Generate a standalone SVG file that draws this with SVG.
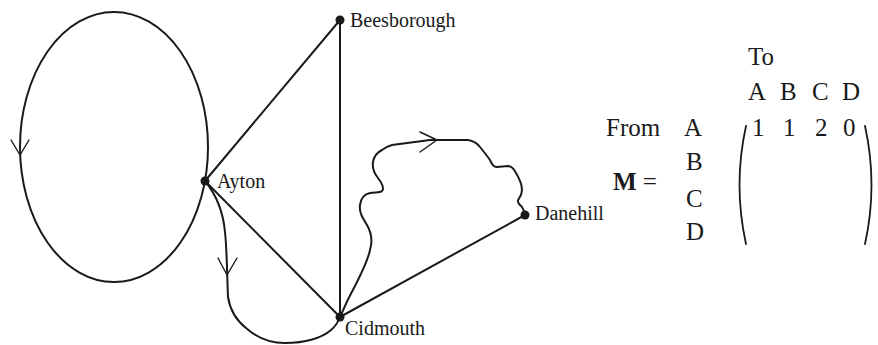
<svg xmlns="http://www.w3.org/2000/svg" width="878" height="345" viewBox="0 0 878 345">
<style>
.e{fill:none;stroke:#1a1a1a;stroke-width:2;stroke-linejoin:round;stroke-linecap:round}
.a{fill:none;stroke:#1a1a1a;stroke-width:1.4;stroke-linecap:round;stroke-linejoin:round}
.n{fill:#1a1a1a}
text{font-family:'Liberation Serif','Times New Roman','DejaVu Serif',serif;fill:#1a1a1a}
.t{font-size:20px}
.m{font-size:25px}
.p{fill:none;stroke:#1a1a1a;stroke-width:1.8;stroke-linecap:round}
</style>
<rect width="878" height="345" fill="#fff"/>
<g id="connectors">
<ellipse class="e" cx="114" cy="147" rx="94" ry="135"/>
<path class="a" d="M11,140 L20,155 L29,140"/>
<line class="e" x1="205" y1="181" x2="340" y2="20"/>
<line class="e" x1="340" y1="20" x2="340" y2="317"/>
<line class="e" x1="205" y1="181" x2="340" y2="317"/>
<line class="e" x1="340" y1="317" x2="525" y2="215"/>
<path class="e" d="M205,181 C214,192 223,210 225,232 C227,250 227,275 228,297 C230,310 236,320 246,328 C256,337 268,343 285,343 C305,343 322,338 331,330 C336,326 338,322 340,317"/>
<path class="a" d="M218,258 L227,275 L237,258"/>
<path class="e" d="M340,317 C346,303 351,293 357,282 C363,270 368,260 370,250 C373,240 371,232 367,225 C362,217 359,212 360,205 C361,198 365,194 370,193 C375,192 380,193 382,191 C385,188 381,182 378,178 C374,173 372,168 373,162 C374,156 378,152 382,150 C386,147 388,146 392,145 L430,140 L468,140 C474,141 477,143 480,147 C484,152 488,157 490,160 C492,164 493,167 497,167 L508,166 C512,166 514,169 516,173 C519,178 522,183 522,190 C522,195 520,197 518,200 C517,203 520,205 522,207 C524,210 525,212 525,215"/>
<path class="a" d="M420,132 L437,140 L420,152"/>
</g>
<g id="ayton"><circle class="n" cx="205" cy="181" r="4.5"/><text class="t" x="217" y="188">Ayton</text></g>
<g id="beesborough"><circle class="n" cx="340" cy="20" r="4.5"/><text class="t" x="350" y="27">Beesborough</text></g>
<g id="cidmouth"><circle class="n" cx="340" cy="317" r="4.5"/><text class="t" x="345" y="335">Cidmouth</text></g>
<g id="danehill"><circle class="n" cx="525" cy="215" r="4.5"/><text class="t" x="535" y="220">Danehill</text></g>
<g id="matrix">
<text class="m" x="748" y="65">To</text>
<text class="m" x="748" y="100">A</text>
<text class="m" x="780" y="100">B</text>
<text class="m" x="812" y="100">C</text>
<text class="m" x="842" y="100">D</text>
<text class="m" x="606" y="136">From</text>
<text class="m" x="684" y="136">A</text>
<text class="m" x="686" y="170">B</text>
<text class="m" x="686" y="207">C</text>
<text class="m" x="686" y="240">D</text>
<text class="m" x="613" y="190"><tspan font-weight="bold">M</tspan> =</text>
<text class="m" x="752" y="136">1</text>
<text class="m" x="783" y="136">1</text>
<text class="m" x="815" y="136">2</text>
<text class="m" x="843" y="136">0</text>
<path class="p" d="M746,126 Q733,185 746,244"/>
<path class="p" d="M865,126 Q878,185 865,244"/>
</g>
</svg>
